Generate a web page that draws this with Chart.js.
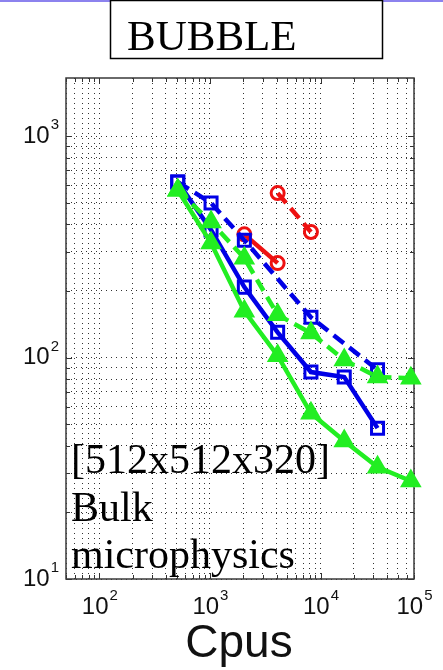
<!DOCTYPE html>
<html>
<head>
<meta charset="utf-8">
<script src="https://cdn.jsdelivr.net/npm/chart.js@4.4.1/dist/chart.umd.min.js"></script>
<style>
    html, body { margin: 0; padding: 0; background: #fff; }
    #wrap { position: relative; width: 443px; height: 670px; overflow: hidden; }
    #topline { position: absolute; left: 0; top: 0; width: 443px; height: 2px; background: #8c82ee; }
    canvas { position: absolute; left: 0; top: 0; }
</style>
</head>
<body>
<div id="wrap">
    <div id="topline"></div>
    <canvas id="chart" width="443" height="670"></canvas>
</div>
<script>
// values (log-log, time vs cpus)
const cpus = [512, 1024, 2048, 4096, 8192, 16384, 32768, 65536];
const greenSolid = [570, 329, 162, 102, 56, 42, 32, 27.7];
const greenDashed = [570, 409, 281, 156, 129, 97.5, 81.7, 80.7];
const blueSolidCpus = [512, 1024, 2048, 4096, 8192, 16384, 32768];
const blueSolid = [620, 377, 208, 130, 86, 81.7, 48];
const blueDashedCpus = [512, 1024, 2048, 8192, 32768];
const blueDashed = [620, 499, 339, 152, 88];
const redSolidCpus = [2048, 4096];
const redSolid = [360, 267];
const redDashedCpus = [4096, 8192];
const redDashed = [553, 369];

// axis labels (the 10^5 label sits on the right edge of the box in the original)
const xLabelValues = [100, 1000, 10000, 70000];
const xLabelExps = ['2', '3', '4', '5'];
const yLabelValues = [10, 100, 1000];
const yLabelExps = ['1', '2', '3'];
const titleText = 'BUBBLE';
const noteLines = ['[512x512x320]', 'Bulk', 'microphysics'];
const xTitle = 'Cpus';

const BLUE = '#0000e6';
const GREEN = '#22ee22';
const RED = '#ee1111';
const SANS = '"Liberation Sans", Arial, sans-serif';
const SERIF = '"Liberation Serif", "Times New Roman", serif';

const pts = (xs, ys) => xs.map((x, i) => ({ x, y: ys[i] }));

function logTicks(min, max) {
    const out = [];
    for (let e = Math.floor(Math.log10(min)); e <= Math.ceil(Math.log10(max)); e++) {
        for (let m = 1; m <= 9; m++) {
            const v = m * Math.pow(10, e);
            if (v >= min - 1e-9 && v <= max + 1e-9) out.push({ value: v });
        }
    }
    return out;
}
const isMajor = v => Math.abs(Math.log10(v) - Math.round(Math.log10(v))) < 1e-9;

function series(data, color, dashed, style) {
    return {
        data,
        borderColor: color,
        borderWidth: 4.5,
        borderDash: dashed ? [13, 7] : [],
        pointStyle: style,
        pointRadius: style === 'triangle' ? 9.5 : (style === 'rect' ? 8.5 : 6.5),
        pointBorderWidth: 3,
        pointBorderColor: color,
        pointBackgroundColor: style === 'triangle' ? color : 'rgba(0,0,0,0)',
        tension: 0,
        clip: false
    };
}

function powLabel(ctx, x, y, exp, align) {
    const big = '24px ' + SANS, small = '15px ' + SANS;
    ctx.font = big;
    const w1 = ctx.measureText('10').width;
    ctx.font = small;
    const w2 = ctx.measureText(exp).width;
    const left = align === 'right' ? x - w1 - w2 : x - (w1 + w2) / 2;
    ctx.textAlign = 'left';
    ctx.textBaseline = 'middle';
    ctx.font = big;
    ctx.fillText('10', left, y);
    ctx.font = small;
    ctx.fillText(exp, left + w1 + 1, y - 11);
}

const frame = {
    id: 'frame',
    beforeDatasetsDraw(chart) {
        const { ctx, chartArea: a, scales: { x, y } } = chart;
        ctx.save();
        ctx.strokeStyle = '#333';
        ctx.lineWidth = 1;
        ctx.beginPath();
        x.ticks.forEach(t => {
            const px = Math.round(x.getPixelForValue(t.value)) + 0.5;
            const len = isMajor(t.value) ? 6 : 4;
            ctx.moveTo(px, a.bottom); ctx.lineTo(px, a.bottom - len);
            ctx.moveTo(px, a.top); ctx.lineTo(px, a.top + len);
        });
        y.ticks.forEach(t => {
            const py = Math.round(y.getPixelForValue(t.value)) + 0.5;
            const len = isMajor(t.value) ? 6 : 4;
            ctx.moveTo(a.left, py); ctx.lineTo(a.left + len, py);
            ctx.moveTo(a.right, py); ctx.lineTo(a.right - len, py);
        });
        ctx.stroke();
        ctx.strokeStyle = '#3a3a3a';
        ctx.lineWidth = 1.5;
        ctx.strokeRect(a.left, a.top, a.right - a.left, a.bottom - a.top);
        ctx.restore();
    },
    afterDraw(chart) {
        const { ctx, scales: { x, y } } = chart;
        ctx.save();
        ctx.fillStyle = '#111';
        xLabelValues.forEach((v, i) => powLabel(ctx, x.getPixelForValue(v), 607, xLabelExps[i], 'center'));
        yLabelValues.forEach((v, i) => powLabel(ctx, 58, y.getPixelForValue(v), yLabelExps[i], 'right'));

        // x axis title
        ctx.font = '46px ' + SANS;
        ctx.textAlign = 'center';
        ctx.textBaseline = 'alphabetic';
        ctx.fillText(xTitle, 239, 657);

        // annotation inside the plot
        ctx.fillStyle = '#000';
        ctx.font = '42px ' + SERIF;
        ctx.textAlign = 'left';
        noteLines.forEach((s, i) => ctx.fillText(s, 71, 473 + i * 47.5));

        // title box
        ctx.fillStyle = '#fff';
        ctx.fillRect(110, 0, 273, 59);
        ctx.strokeStyle = '#000';
        ctx.lineWidth = 1.5;
        ctx.strokeRect(110.5, 0.5, 272, 58);
        ctx.fillStyle = '#000';
        ctx.font = '43px ' + SERIF;
        ctx.fillText(titleText, 127, 50);
        ctx.restore();
    }
};

const axisCommon = {
    type: 'logarithmic',
    ticks: { display: false },
    grid: { drawTicks: false, color: '#333', lineWidth: 1 },
    border: { display: false, dash: [1, 4] }
};

new Chart(document.getElementById('chart'), {
    type: 'line',
    data: {
        datasets: [
            series(pts(cpus, greenSolid), GREEN, false, 'triangle'),
            series(pts(cpus, greenDashed), GREEN, true, 'triangle'),
            series(pts(blueSolidCpus, blueSolid), BLUE, false, 'rect'),
            series(pts(blueDashedCpus, blueDashed), BLUE, true, 'rect'),
            series(pts(redSolidCpus, redSolid), RED, false, 'circle'),
            series(pts(redDashedCpus, redDashed), RED, true, 'circle')
        ]
    },
    options: {
        responsive: false,
        animation: false,
        layout: { padding: { left: 66, right: 29, top: 78, bottom: 91 } },
        plugins: { legend: { display: false }, tooltip: { enabled: false } },
        scales: {
            x: {
                ...axisCommon,
                min: 50, max: 70000,
                afterBuildTicks: s => { s.ticks = logTicks(50, 70000); },
                afterFit: s => { s.height = 0; }
            },
            y: {
                ...axisCommon,
                min: 10, max: 1830,
                afterBuildTicks: s => { s.ticks = logTicks(10, 1830); },
                afterFit: s => { s.width = 0; }
            }
        }
    },
    plugins: [frame]
});
</script>
</body>
</html>
